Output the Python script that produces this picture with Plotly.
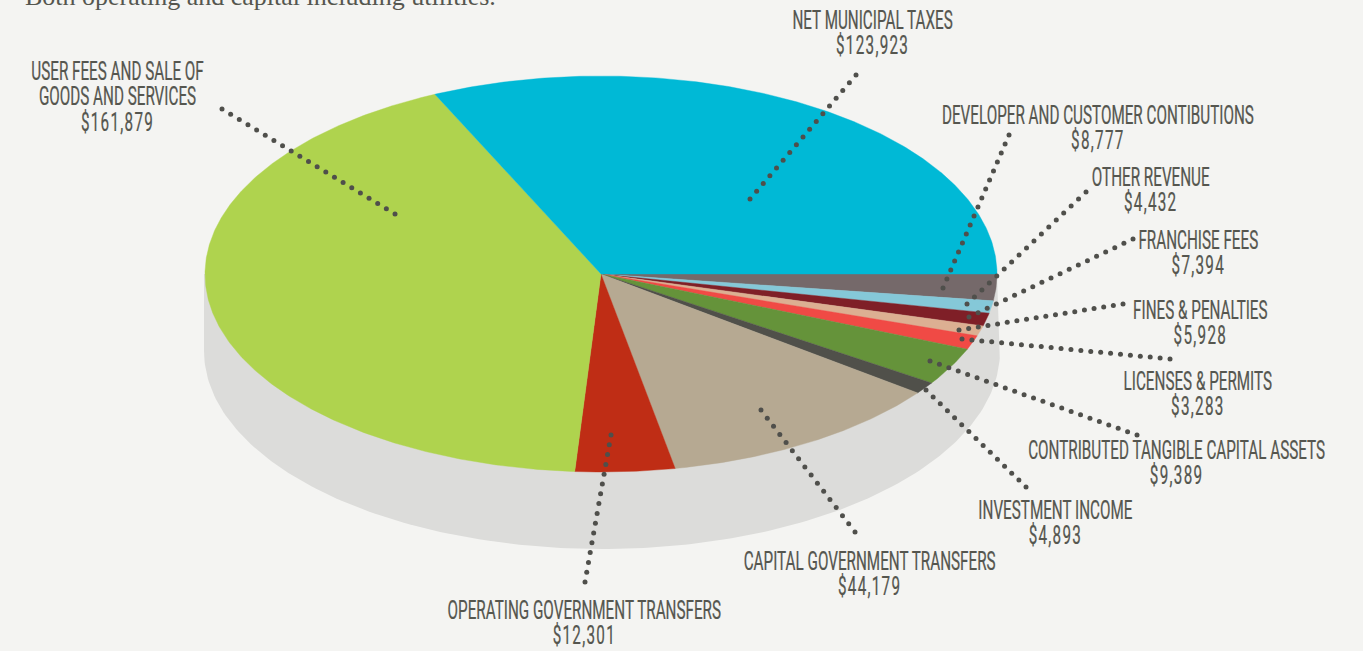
import numpy as np
import plotly.graph_objects as go

# Data: clockwise from the 3 o'clock position
categories = ["DEVELOPER AND CUSTOMER CONTIBUTIONS", "OTHER REVENUE", "FRANCHISE FEES",
              "FINES &amp; PENALTIES", "LICENSES &amp; PERMITS", "CONTRIBUTED TANGIBLE CAPITAL ASSETS",
              "INVESTMENT INCOME", "CAPITAL GOVERNMENT TRANSFERS", "OPERATING GOVERNMENT TRANSFERS",
              "USER FEES AND SALE OF<br>GOODS AND SERVICES", "NET MUNICIPAL TAXES"]
amounts = [8777, 4432, 7394, 5928, 3283, 9389, 4893, 44179, 12301, 161879, 123923]
# slice sizes as drawn in the picture, degrees
slice_degrees = [7.8, 3.6, 3.8, 3.0, 4.1, 11.1, 3.5, 42.3, 14.6, 151.4, 114.8]
colors = ["#75696a", "#85c8d8", "#7f1f27", "#dcaf92", "#f04a45", "#65933a",
          "#50504a", "#b6a992", "#bf2d15", "#afd34e", "#00b9d6"]

# Layout (pixel-space axes)
W, H = 1363, 651
CX, CY, RX, RY = 601, 274, 396, 198
DEPTH = 77
BG = "#f4f4f2"
TEXT = "#55564f"
DOT = "#4f4f4b"
FONT_SIZE = 25
label_x = [1098, 1150, 1198, 1200, 1198, 1176, 1055, 869, 584, 117, 872]
label_top = [116, 178, 241, 311, 382, 451, 511, 562, 611, 71, 21]
leader_from = [(1009, 135), (1086, 192), (1133, 239), (1123, 304), (1170, 359), (1137, 435),
               (1026, 487), (855, 532), (585, 582), (222, 109), (856, 75)]
leader_to = [(943, 288), (967, 304), (969, 317), (959, 330), (962, 339), (930, 361),
             (926, 390), (761, 410), (611, 435), (395, 214), (750, 199)]

fig = go.Figure()

# Drop shadow
t = np.radians(np.linspace(0, 180, 181))
sx = list(CX + 1 + (RX + 2) * np.cos(t))
sy = list(CY + DEPTH + RY * np.sin(t))
fig.add_trace(go.Scatter(x=[CX + RX] + sx + [CX - RX - 1], y=[CY] + sy + [CY], mode="lines", fill="toself",
                         fillcolor="#dcdcda", line=dict(width=0), hoverinfo="skip", showlegend=False))

# Slices
start = 0.0
for name, amount, deg, color in zip(categories, amounts, slice_degrees, colors):
    a = np.radians(np.linspace(start, start + deg, max(3, int(deg * 2))))
    x = [CX] + list(CX + RX * np.cos(a)) + [CX]
    y = [CY] + list(CY + RY * np.sin(a)) + [CY]
    fig.add_trace(go.Scatter(x=x, y=y, mode="lines", fill="toself", fillcolor=color,
                             line=dict(width=0.4, color=color), name=name.replace("<br>", " "),
                             text=f"${amount:,}", hoverinfo="name+text", showlegend=False))
    start += deg

# Dotted leaders
for (x0, y0), (x1, y1) in zip(leader_from, leader_to):
    n = int(round(np.hypot(x1 - x0, y1 - y0) / 10.0)) + 1
    fig.add_trace(go.Scatter(x=np.linspace(x0, x1, n), y=np.linspace(y0, y1, n), mode="markers",
                             marker=dict(size=5, color=DOT, line=dict(width=0)),
                             hoverinfo="skip", showlegend=False))

# Labels: y is the block middle at Plotly's default 1.3em pitch, so the first line lands on label_top
for name, amount, lx, ly in zip(categories, amounts, label_x, label_top):
    text = f"{name}<br>${amount:,}"
    extra_lines = text.count("<br>")
    fig.add_annotation(x=lx, y=ly + extra_lines * 0.65 * FONT_SIZE, xref="x", yref="y", text=text, showarrow=False,
                       xanchor="center", yanchor="middle", align="center",
                       font=dict(family="Roboto", size=FONT_SIZE, color=TEXT))

fig.add_annotation(x=23, y=13, xref="x", yref="y", text="Both operating and capital including utilities.",
                   showarrow=False, xanchor="left", yanchor="bottom",
                   font=dict(family="Liberation Serif", size=26, color="#55564f"))

fig.update_layout(width=W, height=H, margin=dict(l=0, r=0, t=0, b=0), paper_bgcolor=BG, plot_bgcolor=BG,
                  showlegend=False, hovermode="closest",
                  xaxis=dict(range=[0, W], visible=False, fixedrange=True),
                  yaxis=dict(range=[H, 0], visible=False, fixedrange=True))

# No page margin; the reference's label face is very condensed, so narrow the sans labels in place,
# tighten their line pitch, and open up the amount line, whose digits are wider in the reference.
post = """
document.body.style.margin = '0';
document.body.style.background = '%s';
document.querySelectorAll('.annotation-text').forEach(function (el) {
  if (el.textContent.indexOf('Both') === 0) { return; }
  var lines = el.querySelectorAll('tspan.line');
  lines.forEach(function (ln, i) {
    ln.setAttribute('dy', (i * 1.02) + 'em');
    if (i === lines.length - 1) { ln.style.letterSpacing = '2.1px'; }
  });
  el.style.stroke = '%s';
  el.style.strokeWidth = '0.25px';
  var b = el.getBBox(), c = b.x + b.width / 2, k = 0.61;
  el.setAttribute('transform', 'translate(' + c + ',0) scale(' + k + ',1) translate(' + (-c) + ',0)');
});
""" % (BG, TEXT)
fig.write_html("out.html", config=dict(displayModeBar=False, responsive=False), post_script=post)
